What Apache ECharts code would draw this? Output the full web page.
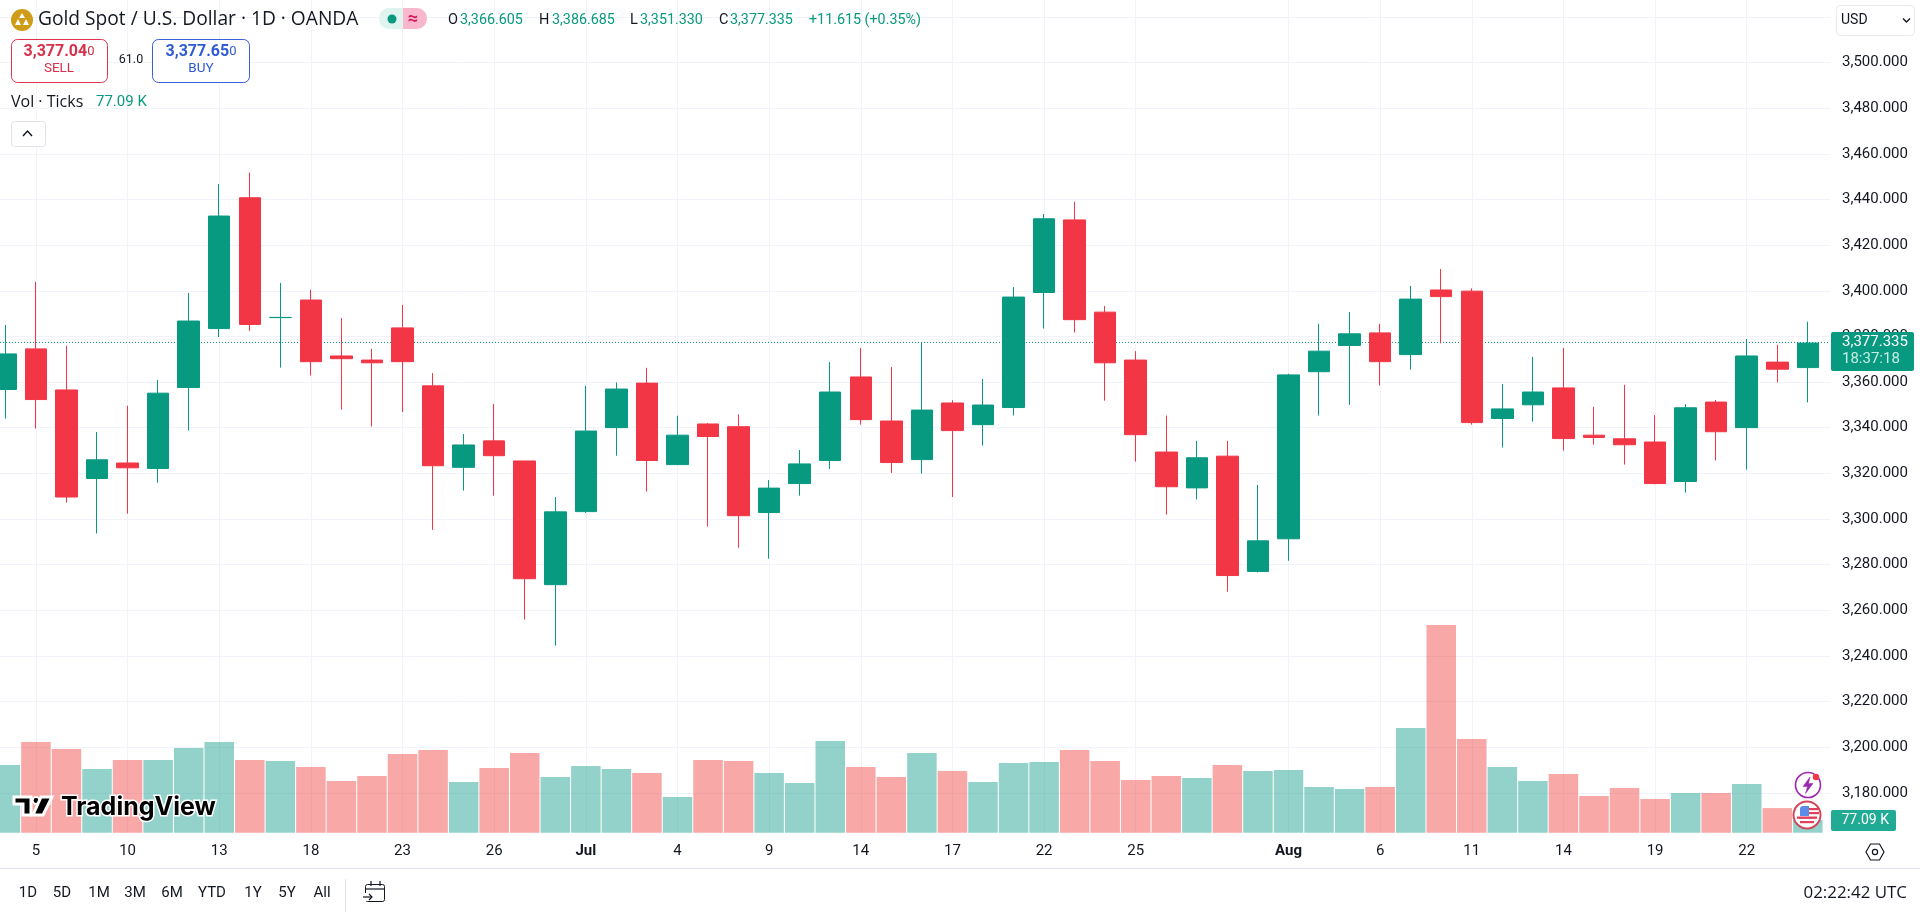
<!DOCTYPE html>
<html><head><meta charset="utf-8">
<style>html,body{margin:0;padding:0;background:#fff;overflow:hidden}#c{width:1920px;height:912px}</style>
<script src="https://cdn.jsdelivr.net/npm/echarts@6/dist/echarts.min.js"></script>
</head><body><div id="c"></div>
<script>
const categories=['Jun 4','Jun 5','Jun 6','Jun 9','Jun 10','Jun 11','Jun 12','Jun 13','Jun 16','Jun 17','Jun 18','Jun 19','Jun 20','Jun 23','Jun 24','Jun 25','Jun 26','Jun 27','Jun 30','Jul 1','Jul 2','Jul 3','Jul 4','Jul 7','Jul 8','Jul 9','Jul 10','Jul 11','Jul 14','Jul 15','Jul 16','Jul 17','Jul 18','Jul 21','Jul 22','Jul 23','Jul 24','Jul 25','Jul 28','Jul 29','Jul 30','Jul 31','Aug 1','Aug 4','Aug 5','Aug 6','Aug 7','Aug 8','Aug 11','Aug 12','Aug 13','Aug 14','Aug 15','Aug 18','Aug 19','Aug 20','Aug 21','Aug 22','Aug 25','Aug 26'];
const tickLabels={'Jun 5':'5','Jun 10':'10','Jun 13':'13','Jun 18':'18','Jun 23':'23','Jun 26':'26','Jul 1':'Jul','Jul 4':'4','Jul 9':'9','Jul 14':'14','Jul 17':'17','Jul 22':'22','Jul 25':'25','Aug 1':'Aug','Aug 6':'6','Aug 11':'11','Aug 14':'14','Aug 19':'19','Aug 22':'22'};
const opens=[3357.0,3374.8,3356.8,3318.0,3324.8,3322.4,3357.9,3383.7,3441.0,3388.5,3396.2,3371.7,3369.9,3384.0,3358.6,3322.9,3334.5,3325.7,3271.5,3303.5,3340.3,3359.8,3324.1,3341.9,3340.7,3303.1,3315.8,3325.9,3362.5,3343.2,3326.3,3351.1,3341.6,3349.1,3399.5,3431.3,3390.9,3369.9,3329.6,3313.9,3327.8,3277.3,3291.6,3364.8,3376.3,3381.8,3372.3,3400.6,3400.1,3344.3,3350.3,3357.7,3337.0,3335.4,3334.0,3316.7,3351.5,3340.3,3369.0,3366.605];
const closes=[3372.6,3352.6,3309.9,3326.2,3322.7,3355.4,3387.0,3433.0,3385.5,3388.6,3369.2,3370.5,3368.7,3369.2,3323.6,3332.7,3328.0,3274.1,3303.4,3338.8,3357.2,3325.9,3337.0,3336.4,3301.7,3313.8,3324.4,3355.9,3343.8,3325.0,3348.0,3339.0,3350.2,3397.5,3431.8,3387.6,3368.7,3337.2,3314.4,3327.1,3275.5,3290.7,3363.4,3373.8,3381.4,3369.2,3396.6,3397.7,3342.5,3348.5,3355.9,3335.5,3336.0,3332.8,3315.8,3349.0,3338.5,3371.7,3365.9,3377.335];
const lows=[3344.3,3339.9,3307.5,3293.9,3302.6,3316.2,3339.0,3380.0,3382.7,3366.6,3363.1,3348.2,3340.8,3347.1,3295.5,3312.7,3310.5,3256.2,3244.8,3302.9,3328.0,3312.3,3324.1,3296.9,3287.7,3282.9,3310.5,3322.2,3341.6,3320.4,3320.1,3309.9,3332.4,3345.6,3383.7,3382.0,3352.1,3325.4,3302.2,3308.8,3268.4,3276.8,3282.0,3345.6,3350.3,3358.8,3365.7,3377.2,3341.6,3331.6,3342.9,3330.2,3332.8,3324.1,3315.5,3311.8,3325.9,3321.9,3360.1,3351.33];
const highs=[3385.3,3404.2,3376.1,3338.4,3349.9,3361.2,3399.3,3447.0,3452.0,3403.7,3400.7,3388.3,3374.8,3394.1,3364.2,3337.5,3350.6,3325.7,3309.9,3358.6,3360.1,3366.5,3345.5,3342.3,3346.1,3317.3,3330.5,3369.0,3375.2,3366.9,3377.6,3352.3,3361.6,3401.9,3433.9,3439.2,3393.6,3373.8,3345.6,3334.5,3334.5,3315.2,3363.9,3385.8,3390.9,3385.8,3402.4,3409.8,3401.3,3359.4,3371.3,3375.2,3349.4,3359.1,3345.8,3350.6,3352.4,3379.1,3376.6,3386.685];
const volumesK=[412,552,510,388,443,443,516,552,443,436,400,315,345,479,503,309,394,485,339,406,388,363,217,443,436,363,302,558,400,339,485,376,309,424,430,503,436,321,345,333,412,376,382,278,266,278,637,1265,570,400,315,357,223,272,205,242,242,296,150,77.09];
const lastPrice=3377.335;

const FONT='Roboto, "Noto Sans", sans-serif',WIDE='"Open Sans", "Noto Sans", sans-serif';
const UP='#089981',DOWN='#F23645',VUP='rgba(7,153,135,0.44)',VDOWN='rgba(237,57,55,0.44)',GRID='#F0F3FA',INK='#131722';
const L=-9.88,BAND=30.55,PANE_W=1830,PANE_B=833;
const labelOf=i=>tickLabels[categories[i]]||'';
const hasTick=i=>labelOf(i)!=='';

const chart=echarts.init(document.getElementById('c'),null,{renderer:'canvas',width:1920,height:912});
const option={
 animation:false,backgroundColor:'#fff',textStyle:{fontFamily:FONT},
 grid:[
  {left:0,top:16.85,width:PANE_W,height:776.05,outerBoundsMode:'none'},
  {left:L,top:0,width:BAND*categories.length,height:PANE_B,outerBoundsMode:'none'},
  {left:L,top:600,width:BAND*categories.length,height:232.7,outerBoundsMode:'none'}
 ],
 xAxis:[
  {type:'value',gridIndex:0,min:0,max:1,show:false},
  {type:'category',gridIndex:1,data:categories,axisLine:{show:false},axisTick:{show:false},
   splitLine:{show:true,alignWithLabel:true,interval:i=>hasTick(i),lineStyle:{color:GRID,width:1}},
   axisLabel:{interval:i=>hasTick(i),margin:11,fontSize:15,color:INK,fontFamily:FONT,
     formatter:(v,i)=>{const s=tickLabels[v]||'';return /[A-Za-z]/.test(s)?'{b|'+s+'}':s},
     rich:{b:{fontWeight:'bold',fontSize:15,color:INK,fontFamily:FONT}}}},
  {type:'category',gridIndex:2,data:categories,show:false}
 ],
 yAxis:[
  {type:'value',gridIndex:0,position:'right',min:3180,max:3520,interval:20,axisLine:{show:false},axisTick:{show:false},
   splitLine:{show:true,lineStyle:{color:GRID,width:1}},
   axisLabel:{margin:12,fontSize:15,color:INK,fontFamily:FONT,padding:[2,0,0,0],formatter:v=>v>=3520?'':v.toLocaleString('en-US',{minimumFractionDigits:3,maximumFractionDigits:3})}},
  {type:'value',gridIndex:1,min:3162.7,max:3527.65,show:false,splitLine:{show:false}},
  {type:'value',gridIndex:2,min:0,max:1417,show:false,splitLine:{show:false}}
 ],
 series:[
  {type:'bar',name:'Vol',xAxisIndex:2,yAxisIndex:2,barWidth:29.5,z:1,silent:true,
   data:volumesK.map((v,i)=>({value:v,itemStyle:{color:closes[i]>=opens[i]?VUP:VDOWN}}))},
  {type:'line',name:'Last',xAxisIndex:0,yAxisIndex:0,z:2,silent:true,showSymbol:false,
   data:[[0,lastPrice],[1,lastPrice]],lineStyle:{color:UP,width:1,type:[1,2]}},
  {type:'candlestick',name:'XAUUSD',xAxisIndex:1,yAxisIndex:1,barWidth:22,z:3,silent:true,
   data:categories.map((c,i)=>[opens[i],closes[i],lows[i],highs[i]]),
   itemStyle:{color:UP,color0:DOWN,borderColor:UP,borderColor0:DOWN,borderWidth:1}}
 ]
};
chart.setOption(option);

function T(x,y,text,o){o=o||{};return {type:'text',z:o.z||20,x:x,y:y,silent:true,style:{text:text,fill:o.c||INK,fontSize:o.s||14,fontFamily:o.ff||FONT,fontWeight:o.w||'normal',align:o.a||'left',verticalAlign:'middle'}}}
function R(x,y,w,h,o){o=o||{};return {type:'rect',z:o.z||19,silent:true,shape:{x:x,y:y,width:w,height:h,r:o.r||0},style:{fill:o.f===undefined?'#fff':o.f,stroke:o.st||null,lineWidth:o.lw||1}}}
function P(pts,o){o=o||{};return {type:'polyline',z:o.z||20,silent:true,shape:{points:pts},style:{stroke:o.st||INK,fill:null,lineWidth:o.lw||1.2}}}
function G(pts,o){o=o||{};return {type:'polygon',z:o.z||20,silent:true,shape:{points:pts},style:{fill:o.f||INK,stroke:o.st||null,lineWidth:o.lw||1}}}
function C(x,y,r,o){o=o||{};return {type:'circle',z:o.z||20,silent:true,shape:{cx:x,cy:y,r:r},style:{fill:o.f===undefined?'#fff':o.f,stroke:o.st||null,lineWidth:o.lw||1}}}

const tagY=chart.convertToPixel({yAxisIndex:0},lastPrice);
const g=[];
// header
g.push(C(22,20,11,{f:'#D09B16'}));
g.push(G([[22,13],[25,18],[19,18]],{f:'#fff'}),G([[18,19],[21,25],[15,25]],{f:'#fff'}),G([[26,19],[29,25],[23,25]],{f:'#fff'}));
g.push(T(38,20,'Gold Spot / U.S. Dollar · 1D · OANDA',{s:19.2,ff:WIDE}));
g.push(R(379,8,24,21,{f:'#DFF3EF',r:[10,0,0,10]}),R(403,8,24,21,{f:'#F8B7CD',r:[0,10,10,0]}));
g.push(C(392,19,4.5,{f:UP}));
g.push(T(413,19,'≈',{c:'#D81B60',s:18,a:'center',w:'bold'}));
const ohlc=[[448,'O'],[539,'H'],[630,'L'],[719,'C']],vals=[[460,'3,366.605'],[552,'3,386.685'],[640,'3,351.330'],[730,'3,377.335'],[809,'+11.615 (+0.35%)']];
ohlc.forEach(a=>g.push(T(a[0],20,a[1],{s:14.5})));
vals.forEach(a=>g.push(T(a[0],20,a[1],{s:14.3,c:UP})));
g.push(R(11.5,39.5,96,43,{r:6,st:'#E0344C'}),R(152.5,39.5,97,43,{r:6,st:'#3A5FD9'}));
g.push({type:'text',z:20,silent:true,x:59,y:52,style:{text:'{a|3,377.04}{b|0}',align:'center',verticalAlign:'middle',rich:{a:{fontSize:16,fontWeight:'bold',fill:'#D7304A',fontFamily:FONT},b:{fontSize:13,fill:'#D7304A',fontFamily:FONT}}}});
g.push(T(59,69,'SELL',{c:'#D7304A',s:13.5,a:'center'}));
g.push(T(131,60,'61.0',{s:12.5,a:'center'}));
g.push({type:'text',z:20,silent:true,x:201,y:52,style:{text:'{a|3,377.65}{b|0}',align:'center',verticalAlign:'middle',rich:{a:{fontSize:16,fontWeight:'bold',fill:'#2F5BD3',fontFamily:FONT},b:{fontSize:13,fill:'#2F5BD3',fontFamily:FONT}}}});
g.push(T(201,69,'BUY',{c:'#2F5BD3',s:13.5,a:'center'}));
g.push(T(11,102,'Vol · Ticks',{s:16,ff:WIDE}),T(96,102,'77.09 K',{s:15,c:UP}));
g.push(R(11.5,121.5,34,25,{r:3,st:'#E0E3EB'}));
g.push(P([[23,136],[27.5,131],[32,136]],{lw:1.5}));
// currency box
g.push(R(1836.5,5.5,78,30,{r:4,st:'#E8EAF0'}));
g.push(T(1841,20,'USD',{s:14}));
g.push(P([[1903,18.5],[1906.5,22],[1910,18.5]],{lw:1.4}));
// last price tag
g.push(R(1831,tagY-10.5,83,39,{f:UP,r:2}));
g.push(T(1842,tagY-0.5,'3,377.335',{c:'#fff',s:15}));
g.push(T(1842,tagY+16.5,'18:37:18',{c:'#C9EDE7',s:15}));
// volume tag
g.push(R(1831,810,65,21,{f:'#22AB94',r:2}));
g.push(T(1841.5,820.5,'77.09 K',{c:'#fff',s:14}));
// event icons
g.push(C(1808,785,12.5,{f:'#fff',st:'#9C27B0',lw:1.6}));
g.push(G([[1810,777],[1803,786.5],[1807.5,786.5],[1805.5,793.5],[1813,783.5],[1808.5,783.5]],{f:'#9C27B0',st:'#9C27B0',lw:0.5}));
g.push(C(1816,777,3.2,{f:'#F23645'}));
g.push(C(1807,815,13.5,{f:'#fff',st:'#D0485C',lw:2}));
g.push(R(1800,806,9,10,{f:'#5B8DE8',z:21,r:[3,0,0,0]}));
g.push(R(1809,808,9,2.2,{f:'#E0405A',z:21}),R(1809,812,10,2.2,{f:'#E0405A',z:21}),R(1797,816.5,20,2.4,{f:'#E0405A',z:21}),R(1800,821,14,2.2,{f:'#E0405A',z:21}));
// TradingView logo
const halo={f:'#000',st:'#fff',lw:3};
g.push(G([[14,797],[31,797],[31,815],[23,815],[23,804],[14,804]],halo));
g.push(C(36,800.5,3.4,{f:'#000',st:'#fff',lw:2}));
g.push(G([[41,797],[52,797],[43,815],[33,815]],halo));
g.push({type:'text',z:20,silent:true,x:61,y:807,style:{text:'TradingView',fill:'#000',stroke:'#fff',lineWidth:3,fontSize:25,fontWeight:'bold',fontFamily:'Inter, Roboto, sans-serif',verticalAlign:'middle'}});
// bottom bar
g.push(R(0,868,1920,1,{f:'#E0E3EB'}));
[[28,'1D'],[62,'5D'],[99,'1M'],[135,'3M'],[172,'6M'],[212,'YTD'],[253,'1Y'],[287,'5Y'],[322,'All']].forEach(a=>g.push(T(a[0],893,a[1],{s:15,a:'center'})));
g.push(R(345,879,1,33,{f:'#E0E3EB'}));
g.push(R(365.5,884.5,19,17,{f:null,st:INK,r:2}));
g.push(P([[365.5,889],[384.5,889]]),P([[371,881],[371,886]]),P([[380,881],[380,886]]));
g.push(R(362,893,10,8,{f:'#fff'}));
g.push(P([[363,897],[372,897]]),P([[369,894],[372,897],[369,900]]));
g.push(T(1907,893,'02:22:42 UTC',{s:16.9,a:'right',ff:WIDE}));
// settings hexagon
g.push(G([[1866,852],[1870.5,844],[1879.5,844],[1884,852],[1879.5,860],[1870.5,860]],{f:'#fff',st:INK,lw:1.2}));
g.push(C(1875,852,2.6,{f:'#fff',st:INK,lw:1.2}));
chart.setOption({graphic:{elements:g}});
</script></body></html>
